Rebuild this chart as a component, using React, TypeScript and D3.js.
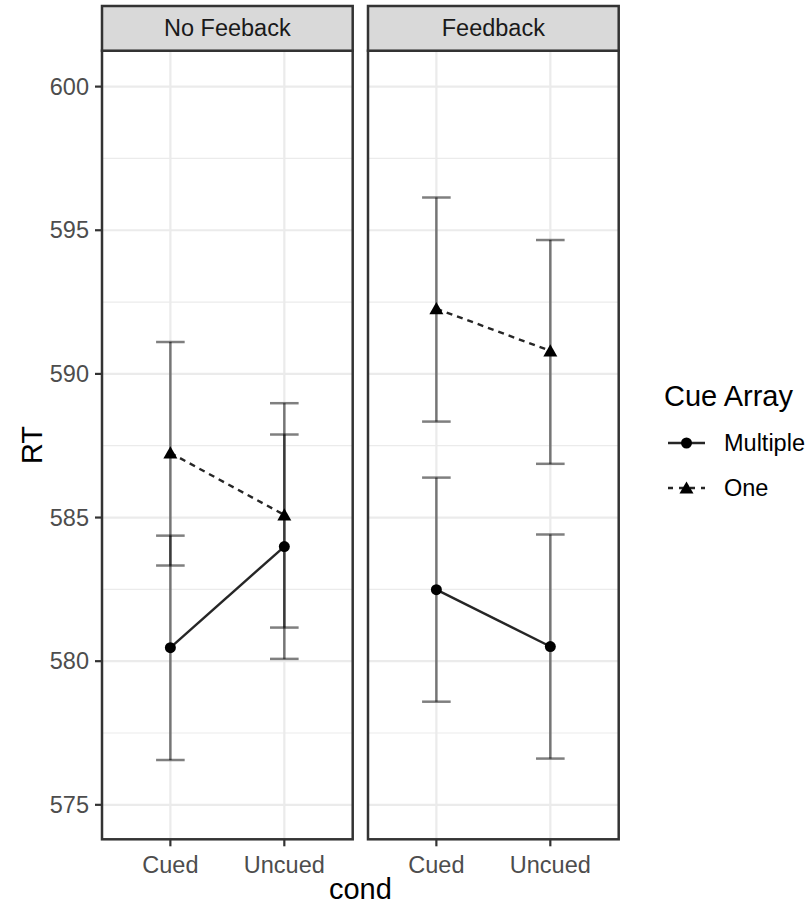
import React from 'react';
import * as d3 from 'd3';

// facets, conditions, series
const panels = ['No Feeback', 'Feedback'];
const conds = ['Cued', 'Uncued'];
const seriesNames = ['Multiple', 'One'];

// RT means and error bar limits
const multipleNoFb = [580.47, 583.99];
const multipleNoFbLo = [576.56, 580.08];
const multipleNoFbHi = [584.37, 587.89];
const oneNoFb = [587.25, 585.09];
const oneNoFbLo = [583.33, 581.17];
const oneNoFbHi = [591.11, 588.98];

const multipleFb = [582.49, 580.51];
const multipleFbLo = [578.59, 576.61];
const multipleFbHi = [586.39, 584.41];
const oneFb = [592.27, 590.8];
const oneFbLo = [588.34, 586.87];
const oneFbHi = [596.14, 594.66];

const yTicks = [575, 580, 585, 590, 595, 600];
const yMinor = [577.5, 582.5, 587.5, 592.5, 597.5];

const FONT = '"Liberation Sans", Arial, Helvetica, sans-serif';

const W = 811;
const H = 911;
const panelTop = 50.7;
const panelBottom = 839.3;
const stripTop = 6;
const panelW = 250.7;
const panelLefts = [102, 368];

const App = () => {
  const y = d3.scaleLinear().domain([573.8, 601.25]).range([panelBottom, panelTop]);

  const panelData = [
    [
      { name: 'Multiple', mean: multipleNoFb, lo: multipleNoFbLo, hi: multipleNoFbHi },
      { name: 'One', mean: oneNoFb, lo: oneNoFbLo, hi: oneNoFbHi },
    ],
    [
      { name: 'Multiple', mean: multipleFb, lo: multipleFbLo, hi: multipleFbHi },
      { name: 'One', mean: oneFb, lo: oneFbLo, hi: oneFbHi },
    ],
  ];

  const tri = d3.symbol().type(d3.symbolTriangle).size(85);
  const capHalf = 14.3;

  return (
    <svg width={W} height={H} style={{ position: 'absolute', left: 0, top: 0, background: '#fff' }} fontFamily={FONT}>
      <rect x={0} y={0} width={W} height={H} fill="#fff" />
      {panels.map((p, pi) => {
        const left = panelLefts[pi];
        const x = d3.scalePoint<string>().domain(conds).range([left, left + panelW]).padding(0.6);
        const line = d3.line<number>().x((_, i) => x(conds[i]) as number).y(d => y(d));
        return (
          <g key={p}>
            {/* grid */}
            {yMinor.map(t => (
              <line key={'m' + t} x1={left} x2={left + panelW} y1={y(t)} y2={y(t)} stroke="#EBEBEB" strokeWidth={1.2} />
            ))}
            {yTicks.map(t => (
              <line key={'M' + t} x1={left} x2={left + panelW} y1={y(t)} y2={y(t)} stroke="#EBEBEB" strokeWidth={2.2} />
            ))}
            {conds.map(c => (
              <line key={c} x1={x(c)} x2={x(c)} y1={panelTop} y2={panelBottom} stroke="#EBEBEB" strokeWidth={2.2} />
            ))}
            {/* error bars */}
            {panelData[pi].map(s =>
              conds.map((c, i) => {
                const cx = x(c) as number;
                return (
                  <g key={s.name + c} stroke="#000" strokeOpacity={0.5} strokeWidth={2.5}>
                    <line x1={cx} x2={cx} y1={y(s.lo[i])} y2={y(s.hi[i])} />
                    <line x1={cx - capHalf} x2={cx + capHalf} y1={y(s.lo[i])} y2={y(s.lo[i])} />
                    <line x1={cx - capHalf} x2={cx + capHalf} y1={y(s.hi[i])} y2={y(s.hi[i])} />
                  </g>
                );
              })
            )}
            {/* lines */}
            {panelData[pi].map(s => (
              <path key={'l' + s.name} d={line(s.mean) as string} fill="none" stroke="#262626" strokeWidth={2.4}
                strokeDasharray={s.name === 'One' ? '6,5' : undefined} />
            ))}
            {/* points */}
            {panelData[pi].map(s =>
              conds.map((c, i) =>
                s.name === 'Multiple' ? (
                  <circle key={'p' + s.name + c} cx={x(c)} cy={y(s.mean[i])} r={5.5} fill="#000" />
                ) : (
                  <path key={'p' + s.name + c} d={tri() as string}
                    transform={`translate(${x(c)},${y(s.mean[i]) + 1.5})`} fill="#000" />
                )
              )
            )}
            {/* panel border */}
            <rect x={left} y={panelTop} width={panelW} height={panelBottom - panelTop} fill="none" stroke="#333" strokeWidth={2.5} />
            {/* strip */}
            <rect x={left} y={stripTop} width={panelW} height={panelTop - stripTop} fill="#D9D9D9" stroke="#333" strokeWidth={2.5} />
            <text x={left + panelW / 2} y={(stripTop + panelTop) / 2} textAnchor="middle" dominantBaseline="central"
              fontSize={23.5} fill="#1A1A1A">{p}</text>
            {/* x axis */}
            {conds.map(c => (
              <g key={'xt' + c}>
                <line x1={x(c)} x2={x(c)} y1={panelBottom} y2={panelBottom + 7} stroke="#333" strokeWidth={2.2} />
                <text x={x(c)} y={865} textAnchor="middle" dominantBaseline="central" fontSize={23.5} fill="#4D4D4D">{c}</text>
              </g>
            ))}
          </g>
        );
      })}
      {/* y axis */}
      {yTicks.map(t => (
        <g key={'yt' + t}>
          <line x1={95} x2={102} y1={y(t)} y2={y(t)} stroke="#333" strokeWidth={2.2} />
          <text x={89} y={y(t)} textAnchor="end" dominantBaseline="central" fontSize={23.5} fill="#4D4D4D">{t}</text>
        </g>
      ))}
      <text transform={`translate(32,${(panelTop + panelBottom) / 2}) rotate(-90)`} textAnchor="middle"
        dominantBaseline="central" fontSize={29} fill="#000">RT</text>
      <text x={(panelLefts[0] + panelLefts[1] + panelW) / 2} y={889} textAnchor="middle" dominantBaseline="central"
        fontSize={29} fill="#000">cond</text>
      {/* legend */}
      <text x={664} y={396} dominantBaseline="central" fontSize={29} fill="#000">Cue Array</text>
      {seriesNames.map((s, i) => {
        const ly = 443 + i * 45;
        return (
          <g key={'lg' + s}>
            <line x1={668} x2={705} y1={ly} y2={ly} stroke="#262626" strokeWidth={2.4}
              strokeDasharray={s === 'One' ? '5,6' : undefined} />
            {s === 'Multiple' ? (
              <circle cx={686.5} cy={ly} r={5.5} fill="#000" />
            ) : (
              <path d={tri() as string} transform={`translate(686.5,${ly + 1.5})`} fill="#000" />
            )}
            <text x={724} y={ly} dominantBaseline="central" fontSize={23.5} fill="#000">{s}</text>
          </g>
        );
      })}
    </svg>
  );
};

export default App;
